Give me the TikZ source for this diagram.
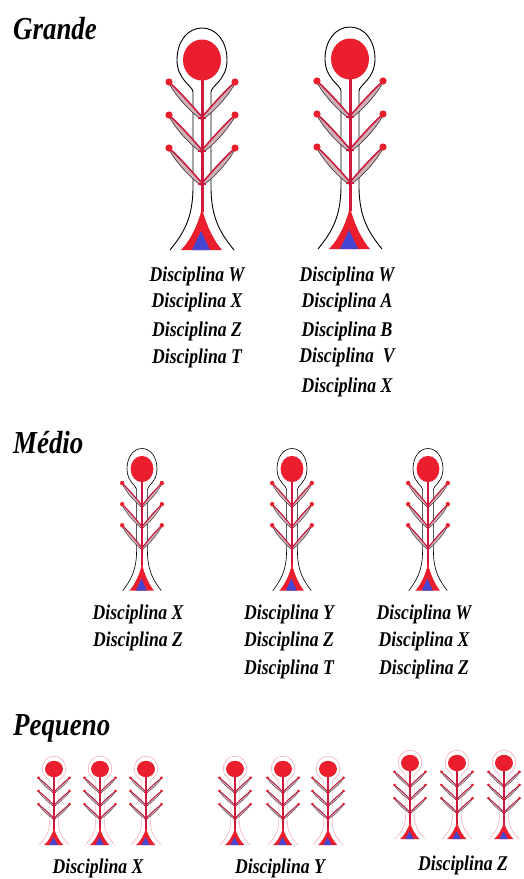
\documentclass[tikz,border=0pt]{standalone}
\usepackage{fontspec}
\newfontfamily\cf[FakeStretch=0.84]{Liberation Serif}
\definecolor{tred}{RGB}{234,30,45}
\definecolor{stemred}{RGB}{205,25,60}
\definecolor{tblue}{RGB}{70,70,210}
\definecolor{shade}{RGB}{205,175,182}
\definecolor{shadeline}{RGB}{60,45,50}
\definecolor{halo}{RGB}{240,160,170}
\tikzset{
  title/.style={anchor=base west, font=\cf\bfseries\itshape\fontsize{32}{38}\selectfont, inner sep=0pt},
  lbl/.style={anchor=base, font=\cf\bfseries\itshape\fontsize{21}{27}\selectfont, inner sep=0pt},
}
% #1 x, #2 y, #3 xscale, #4 yscale, #5 line width factor, #6 outline colour
\newcommand\drawtree[6]{%
\pgfmathsetmacro\lwStem{3*#5}%
\pgfmathsetmacro\lwOut{0.9*#5}%
\pgfmathsetmacro\lwBr{1.5*#5}%
\pgfmathsetmacro\lwSh{0.6*#5}%
\begin{scope}[shift={(#1,#2)},xscale=#3,yscale=#4]
  \draw[line width=\lwOut pt, draw=#6] (-32,190) .. controls (-20,175) and (-9,160) .. (-9,127) -- (-9,32) .. controls (-9,26) and (-25,20) .. (-25,0) .. controls (-25,-19) and (-14,-32) .. (0,-32) .. controls (14,-32) and (25,-19) .. (25,0) .. controls (25,20) and (9,26) .. (9,32) -- (9,127) .. controls (9,160) and (20,175) .. (32,190);
  \foreach \yy in {22,55,88}{
    \foreach \s in {-1,1}{
      \filldraw[fill=shade, draw=shadeline, line width=\lwSh pt] (\s*33,\yy+1) .. controls (\s*28,\yy+12) and (\s*12,\yy+30) .. (0,\yy+38) -- (0,\yy+35) .. controls (\s*8,\yy+26) and (\s*18,\yy+14) .. (\s*33,\yy) -- cycle;
      \draw[stemred, line width=\lwBr pt] (\s*33,\yy) .. controls (\s*18,\yy+14) and (\s*8,\yy+26) .. (0,\yy+35);
      \fill[tred] (\s*33,\yy) circle (3.6);
    }
    \draw[stemred, line width=\lwBr pt] (-4,\yy+36) -- (4,\yy+36);
  }
  \draw[stemred, line width=\lwStem pt] (0,15) -- (0,152);
  \fill[tred] (0,0) ellipse [x radius=19, y radius=20.5];
  \fill[tred] (0,148) .. controls (-4,165) and (-12,181) .. (-21,190) -- (20,190) .. controls (12,181) and (4,165) .. (0,148) -- cycle;
  \fill[tblue] (-1,171) -- (-10,190) -- (8,190) -- cycle;
\end{scope}}
\begin{document}
\begin{tikzpicture}[x=1pt,y=-1pt]
\fill[white] (0,0) rectangle (523,879);
\useasboundingbox (0,0) rectangle (523,879);

% Grande
\node[title] (tg) at (13,39) {Grande};
\drawtree{202}{60}{1}{1}{1}{black}
\drawtree{350}{59}{1}{1}{1}{black}
\node[lbl] (g1a) at (197,281) {Disciplina W};
\node[lbl] (g1b) at (197,307) {Disciplina X};
\node[lbl] (g1c) at (197,336) {Disciplina Z};
\node[lbl] (g1d) at (197,363) {Disciplina T};
\node[lbl] (g2a) at (347,281) {Disciplina W};
\node[lbl] (g2b) at (347,307) {Disciplina A};
\node[lbl] (g2c) at (347,336) {Disciplina B};
\node[lbl] (g2d) at (347,362) {Disciplina~~V};
\node[lbl] (g2e) at (347,392) {Disciplina X};

% Medio
\node[title] (tm) at (13,453) {Médio};
\drawtree{142}{469}{0.6}{0.64}{0.7}{black}
\drawtree{292}{469}{0.6}{0.64}{0.7}{black}
\drawtree{428}{469}{0.6}{0.64}{0.7}{black}
\node[lbl] (m1a) at (138,619) {Disciplina X};
\node[lbl] (m1b) at (138,646) {Disciplina Z};
\node[lbl] (m2a) at (289,619) {Disciplina Y};
\node[lbl] (m2b) at (289,646) {Disciplina Z};
\node[lbl] (m2c) at (289,674) {Disciplina T};
\node[lbl] (m3a) at (424,619) {Disciplina W};
\node[lbl] (m3b) at (424,646) {Disciplina X};
\node[lbl] (m3c) at (424,674) {Disciplina Z};

% Pequeno
\node[title] (tp) at (13,735) {Pequeno};
\foreach \xx in {54,100,146,235,283,328}{
  \drawtree{\xx}{769}{0.47}{0.4}{0.5}{halo}
}
\foreach \xx in {410,457,504}{
  \drawtree{\xx}{763}{0.47}{0.4}{0.5}{halo}
}
\node[lbl] (p1) at (98,873) {Disciplina X};
\node[lbl] (p2) at (280,873) {Disciplina Y};
\node[lbl] (p3) at (463,870) {Disciplina Z};
\end{tikzpicture}
\end{document}
